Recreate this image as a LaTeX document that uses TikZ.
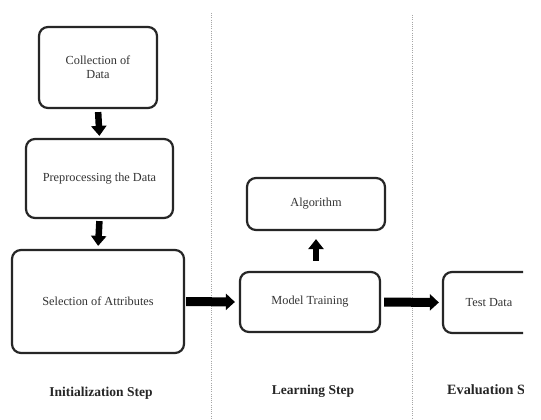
\documentclass[tikz,border=0pt]{standalone}
\usepackage{fontspec}
\setmainfont{Liberation Serif}
\usetikzlibrary{arrows.meta}
\begin{document}
\begin{tikzpicture}[x=1pt,y=-1pt,
  stage/.style={draw=black!85,line width=2.2pt,rounded corners=9pt,fill=white,
    align=center,font=\fontsize{12.3}{14}\selectfont,text=black!80,inner sep=2pt},
  flowv/.style={line width=6.5pt,black,-{Triangle[width=15pt,length=10pt]}},
  flowh/.style={line width=9pt,black,-{Triangle[width=16pt,length=9pt]}},
  divider/.style={gray!70,line width=0.8pt,dash pattern=on 1pt off 1.2pt},
  steplabel/.style={font=\bfseries\fontsize{13.5}{16}\selectfont,text=black!85}]
\useasboundingbox (0,0) rectangle (541,420);
\fill[white] (0,0) rectangle (541,420);
\begin{scope}
\clip (0,0) rectangle (523,420);
% section dividers
\coordinate (d1t) at (211,13);
\coordinate (d1b) at (211,420);
\coordinate (d2t) at (412,15);
\coordinate (d2b) at (412,420);
\draw[divider] (d1t) -- (d1b);
\draw[divider] (d2t) -- (d2b);
% initialization step
\node[stage,minimum width=118pt,minimum height=81pt] (collect) at (98,67.5) {Collection of\\Data};
\node[stage,minimum width=147pt,minimum height=79pt] (prep) at (99.5,178.5) {Preprocessing the Data};
\node[stage,minimum width=172pt,minimum height=103pt] (select) at (98,301.5) {Selection of Attributes};
% learning step
\node[stage,minimum width=138pt,minimum height=52pt] (algo) at (316,204) {Algorithm};
\node[stage,minimum width=140pt,minimum height=60pt] (train) at (310,302) {Model Training};
% evaluation step
\node[stage,minimum width=92pt,minimum height=61pt] (test) at (489,302.5) {Test Data};
% connectors
\draw[flowv,shorten <=3pt,shorten >=2pt] (collect.south) -- (prep.north);
\draw[flowv,shorten <=2pt,shorten >=3pt] (prep.south) -- (select.north);
\draw[flowh,shorten <=1pt,shorten >=4pt] (select.east) -- (train.west);
\draw[flowv,shorten <=10pt,shorten >=8pt] (train.north -| algo.south) -- (algo.south);
\draw[flowh,shorten <=3pt,shorten >=3pt] (train.east) -- (test.west);
% step labels
\node[steplabel] (l1) at (101,393) {Initialization Step};
\node[steplabel] (l2) at (313,391) {Learning Step};
\node[steplabel,anchor=west,inner sep=0pt] (l3) at (447,391) {\fontsize{14.2}{16}\selectfont Evaluation Step};
\end{scope}
\end{tikzpicture}
\end{document}
